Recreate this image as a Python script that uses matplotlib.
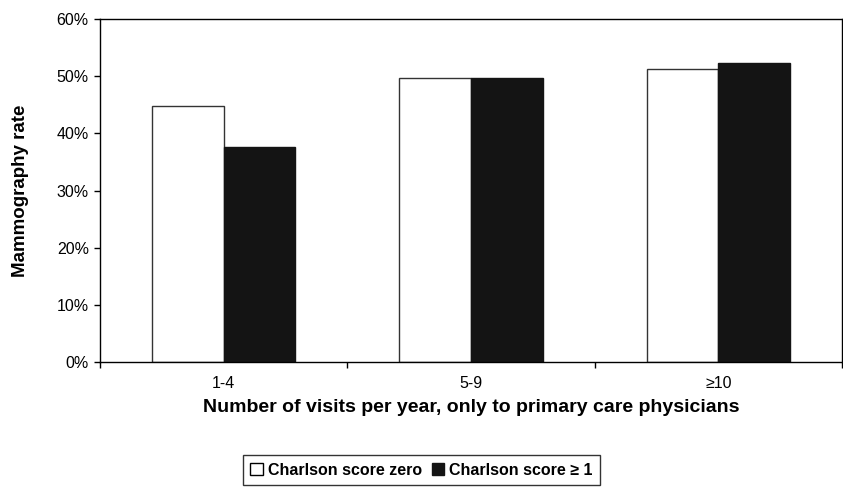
import matplotlib.pyplot as plt
from matplotlib.patches import Patch
import numpy as np

plt.rcParams['font.family'] = ['Liberation Sans', 'DejaVu Sans']

# data
groups = ['1-4', '5-9', '≥10']
zero_vals = [44.8, 49.6, 51.2]
one_vals = [37.7, 49.6, 52.3]
series_names = ['Charlson score zero', 'Charlson score \u2265 1']

fig = plt.figure(figsize=(8.43, 4.88), dpi=100)
ax = fig.add_axes([0.1186, 0.258, 0.8802, 0.703])

x = np.arange(len(groups))
w = 0.29
ax.bar(x - w / 2, zero_vals, w, color='white', edgecolor='#333333', linewidth=1.0)
ax.bar(x + w / 2, one_vals, w, color='#141414', edgecolor='#141414', linewidth=1.0)

ax.set_xlim(-0.5, len(groups) - 0.5)
ax.set_ylim(0, 60)
ax.set_yticks(np.arange(0, 61, 10))
ax.set_yticklabels(['{}%'.format(v) for v in range(0, 61, 10)], fontsize=11.5)

# excel style: ticks between categories, labels at centers
ax.set_xticks(np.arange(-0.5, len(groups), 1))
ax.set_xticklabels([])
ax.set_xticks(x, minor=True)
ax.set_xticklabels(groups, minor=True, fontsize=11.5)
ax.tick_params(axis='x', which='minor', length=0, pad=10)
ax.tick_params(axis='both', which='major', length=4.5, width=1, direction='out')

for s in ax.spines.values():
    s.set_linewidth(1)
    s.set_color('black')

ax.set_ylabel('Mammography rate', fontsize=13.5, fontweight='bold', labelpad=20)
ax.set_xlabel('Number of visits per year, only to primary care physicians',
              fontsize=14, fontweight='bold', labelpad=6)

handles = [Patch(facecolor='white', edgecolor='black', linewidth=1),
           Patch(facecolor='#141414', edgecolor='#141414')]
leg = fig.legend(handles, series_names, loc='lower center', bbox_to_anchor=(0.5, 0.0),
                 ncol=2, frameon=True, fancybox=False, edgecolor='black',
                 prop={'weight': 'bold', 'size': 11.5}, handlelength=0.8, handleheight=0.8,
                 handletextpad=0.3, columnspacing=0.6, borderpad=0.45, borderaxespad=0.2)
leg.get_frame().set_linewidth(1)

fig.savefig('out.png', dpi=100)
